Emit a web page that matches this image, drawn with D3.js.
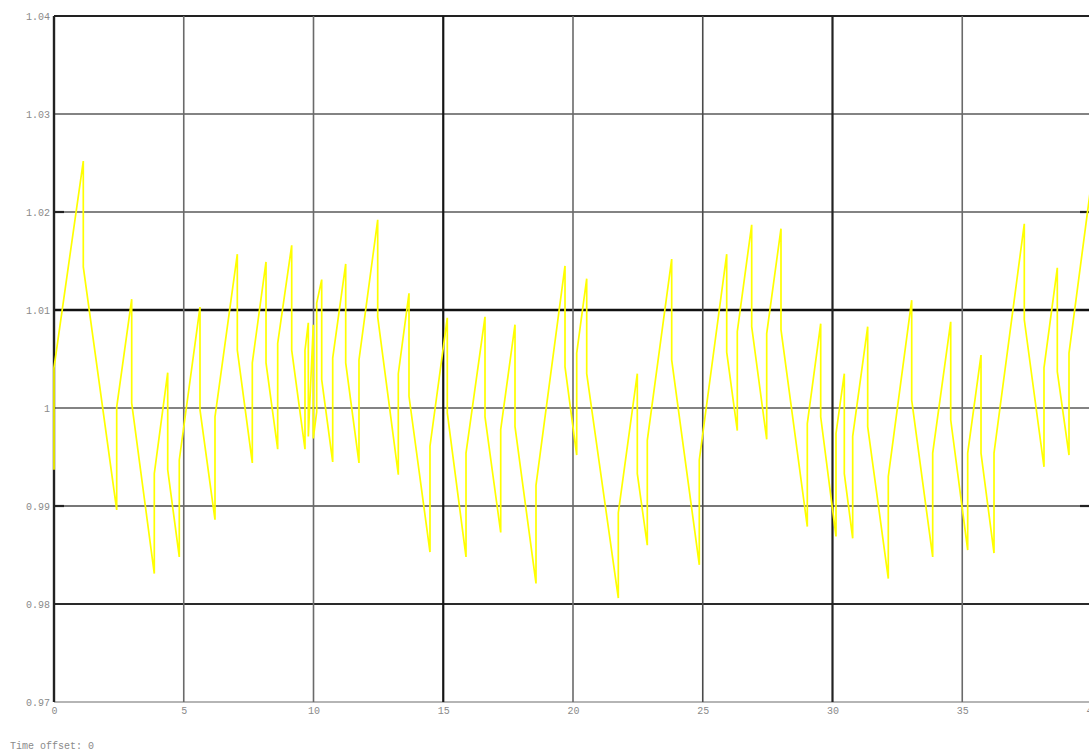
<!DOCTYPE html>
<html>
<head>
<meta charset="utf-8">
<script src="https://cdn.jsdelivr.net/npm/d3@7"></script>
<style>
  html, body { margin: 0; padding: 0; background: #fff; overflow: hidden; }
  svg { display: block; }
  .tick text { font-family: "Liberation Mono", "DejaVu Sans Mono", monospace; font-size: 10px; fill: #8a8a8a; }
</style>
</head>
<body>
<svg id="chart" width="1089" height="753"></svg>
<script>
// Sampled signal: time (s) and normalised amplitude; repeated times are step jumps.
const time = [
  0, 0, 1.129, 1.129, 2.416, 2.416, 2.994, 2.994, 3.865, 3.865,
  4.382, 4.382, 4.828, 4.828, 5.626, 5.626, 6.204, 6.204, 7.064, 7.064,
  7.642, 7.642, 8.170, 8.170, 8.620, 8.620, 9.160, 9.160, 9.672, 9.672,
  9.800, 9.800, 9.992, 9.992, 10.123, 10.123, 10.316, 10.316, 10.740, 10.740,
  11.241, 11.241, 11.753, 11.753, 12.474, 12.474, 13.268, 13.268, 13.680, 13.680,
  14.489, 14.489, 15.156, 15.156, 15.877, 15.877, 16.609, 16.609, 17.214, 17.214,
  17.765, 17.765, 18.574, 18.574, 19.692, 19.692, 20.143, 20.143, 20.528, 20.528,
  21.746, 21.746, 22.478, 22.478, 22.863, 22.863, 23.803, 23.803, 24.867, 24.867,
  25.923, 25.923, 26.331, 26.331, 26.886, 26.886, 27.464, 27.464, 28.015, 28.015,
  29.029, 29.029, 29.545, 29.545, 30.135, 30.135, 30.455, 30.455, 30.778, 30.778,
  31.356, 31.356, 32.150, 32.150, 33.052, 33.052, 33.861, 33.861, 34.555, 34.555,
  35.210, 35.210, 35.723, 35.723, 36.224, 36.224, 37.391, 37.391, 38.150, 38.150,
  38.663, 38.663, 39.114, 39.114, 40
];
const amplitude = [
  0.9937, 1.0041, 1.0252, 1.0144, 0.9896, 1.0001, 1.0111, 1.0005, 0.9831, 0.9933,
  1.0036, 0.9937, 0.9848, 0.9947, 1.0103, 0.9998, 0.9886, 0.9991, 1.0157, 1.0059,
  0.9944, 1.0046, 1.0149, 1.0046, 0.9958, 1.0066, 1.0166, 1.0059, 0.9958, 1.0059,
  1.0087, 0.9971, 1.0085, 0.9969, 0.9996, 1.0107, 1.0131, 1.0029, 0.9945, 1.0051,
  1.0147, 1.0046, 0.9944, 1.0049, 1.0192, 1.0093, 0.9932, 1.0035, 1.0117, 1.0012,
  0.9853, 0.9961, 1.0092, 0.9995, 0.9848, 0.9954, 1.0093, 0.9991, 0.9873, 0.9978,
  1.0085, 0.9981, 0.9821, 0.9921, 1.0145, 1.0042, 0.9952, 1.0056, 1.0132, 1.0035,
  0.9806, 0.9893, 1.0035, 0.9933, 0.9860, 0.9967, 1.0152, 1.0049, 0.9840, 0.9947,
  1.0157, 1.0057, 0.9977, 1.0078, 1.0187, 1.0083, 0.9968, 1.0076, 1.0183, 1.0080,
  0.9879, 0.9984, 1.0086, 0.9991, 0.9869, 0.9974, 1.0035, 0.9933, 0.9867, 0.9971,
  1.0083, 0.9981, 0.9826, 0.9930, 1.0110, 1.0008, 0.9848, 0.9954, 1.0088, 0.9988,
  0.9855, 0.9954, 1.0054, 0.9954, 0.9852, 0.9954, 1.0188, 1.0090, 0.9940, 1.0041,
  1.0143, 1.0037, 0.9952, 1.0056, 1.0235
];
const xTicks = [0, 5, 10, 15, 20, 25, 30, 35, 40];
const yTicks = [0.97, 0.98, 0.99, 1.00, 1.01, 1.02, 1.03, 1.04];
const yMarkTicks = [0.99, 1.02];
const timeOffset = 0;

const svg = d3.select("#chart");
const margin = { left: 54, top: 16 };
const plotW = 1038, plotH = 686;

const x = d3.scaleLinear().domain([0, 40]).range([margin.left, margin.left + plotW]);
const y = d3.scaleLinear().domain([0.97, 1.04]).range([margin.top + plotH, margin.top]);

// Grid line weights: a few lines are drawn heavier than the rest.
const hStyle = v => {
  const k = Math.round(v * 100);
  if (k === 101) return { c: "#111", w: 2.6 };
  if (k === 104) return { c: "#222", w: 2 };
  if (k === 98) return { c: "#2a2a2a", w: 2 };
  if (k === 97) return { c: "#b5b5b5", w: 2 };
  if (k === 99) return { c: "#4a4a4a", w: 1.6 };
  return { c: "#5a5a5a", w: 1.6 };
};
const vStyle = t => {
  if (t === 0) return { c: "#222", w: 2.4 };
  if (t === 15) return { c: "#151515", w: 2.2 };
  if (t === 30) return { c: "#222", w: 2.2 };
  if (t === 25) return { c: "#4a4a4a", w: 1.6 };
  return { c: "#6a6a6a", w: 1.6 };
};

const grid = svg.append("g");
grid.selectAll("line.h").data(yTicks).join("line")
  .attr("class", "h")
  .attr("x1", x(0)).attr("x2", x(40))
  .attr("y1", d => y(d)).attr("y2", d => y(d))
  .attr("stroke", d => hStyle(d).c)
  .attr("stroke-width", d => hStyle(d).w);
grid.selectAll("line.v").data(xTicks.filter(t => t < 40)).join("line")
  .attr("class", "v")
  .attr("x1", d => x(d)).attr("x2", d => x(d))
  .attr("y1", y(1.04)).attr("y2", y(0.97))
  .attr("stroke", d => vStyle(d).c)
  .attr("stroke-width", d => vStyle(d).w);

// Short dark marks on the inner side of the left and right frame
grid.selectAll("line.tl").data(yMarkTicks).join("line")
  .attr("class", "tl")
  .attr("x1", x(0)).attr("x2", x(0) + 10)
  .attr("y1", d => y(d)).attr("y2", d => y(d))
  .attr("stroke", "#222").attr("stroke-width", 2.2);
grid.selectAll("line.tr").data(yMarkTicks).join("line")
  .attr("class", "tr")
  .attr("x1", x(40) - 12).attr("x2", x(40))
  .attr("y1", d => y(d)).attr("y2", d => y(d))
  .attr("stroke", "#222").attr("stroke-width", 2.2);

// Axes (labels only)
const yAxis = d3.axisLeft(y).tickValues(yTicks).tickSize(0).tickPadding(4)
  .tickFormat(d => d3.format("~g")(+d.toFixed(2)));
svg.append("g").attr("transform", `translate(${margin.left},0)`).call(yAxis)
  .call(g => g.select(".domain").remove());

const xAxis = d3.axisBottom(x).tickValues(xTicks).tickSize(0).tickPadding(5)
  .tickFormat(d3.format("d"));
svg.append("g").attr("transform", `translate(0,${margin.top + plotH})`).call(xAxis)
  .call(g => g.select(".domain").remove());

// Signal trace
const pts = time.map((t, i) => [t, amplitude[i]]);
const line = d3.line().x(d => x(d[0])).y(d => y(d[1]));
svg.append("path")
  .datum(pts)
  .attr("d", line)
  .attr("fill", "none")
  .attr("stroke", "#ffff00")
  .attr("stroke-width", 1.7)
  .attr("stroke-linejoin", "miter");

svg.append("text")
  .attr("x", 10).attr("y", 749)
  .attr("font-family", "Liberation Mono, DejaVu Sans Mono, monospace")
  .attr("font-size", 10)
  .attr("fill", "#8a8a8a")
  .text("Time offset: " + timeOffset);
</script>
</body>
</html>
